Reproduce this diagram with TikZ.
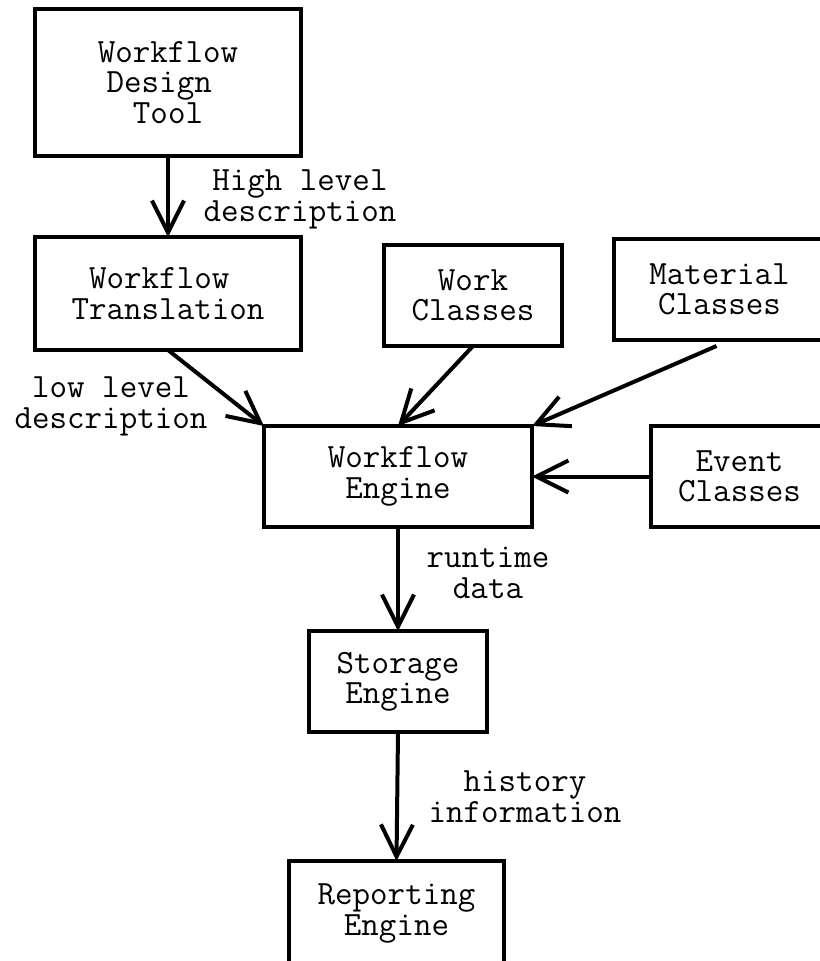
\documentclass[tikz,border=0pt]{standalone}
\usetikzlibrary{arrows.meta}

\begin{document}
\begin{tikzpicture}[x=0.75pt,y=-0.75pt,
  txt/.style={font=\ttfamily\fontsize{25.5pt}{22.8pt}\selectfont,align=center,inner sep=0pt,outer sep=0pt},
  box/.style={txt,draw,line width=3pt},
  conn/.style={line width=3pt,-{Straight Barb[length=24pt,width=24pt]}},
  lbl/.style={txt,anchor=base}]

% page area; boxes running past the edge are cut off
\clip (0,0) rectangle (820,961);

% components
\node[box,minimum width=199.5pt,minimum height=110.25pt] (design)   at (168,82.5)    {Workflow\\Design\phantom{x}\\Tool};
\node[box,minimum width=199.5pt,minimum height=84.75pt]  (trans)    at (168,293.5)   {Workflow\phantom{x}\\Translation};
\node[box,minimum width=133.5pt,minimum height=75.75pt]  (work)     at (473,295.5)   {Work\\Classes};
\node[box,minimum width=158.25pt,minimum height=75.75pt] (material) at (719.5,289.5) {Material\\Classes};
\node[box,minimum width=201pt,minimum height=75.75pt]    (engine)   at (398,476.5)   {Workflow\\Engine};
\node[box,minimum width=132.75pt,minimum height=75.75pt] (event)    at (739.5,476.5) {Event\\Classes};
\node[box,minimum width=133.5pt,minimum height=75.75pt]  (storage)  at (398,681.5)   {Storage\\Engine};
\node[box,minimum width=161.25pt,minimum height=78.75pt] (report)   at (396.5,913.5) {Reporting\\Engine};

% data flow
\coordinate (matout) at ([shift={(-3,6)}]material.south);
\draw[conn] (design.south) -- (trans.north);
\draw[conn] (trans.south) -- (engine.north west);
\draw[conn] (work.south) -- (engine.north);
\draw[conn] (matout) -- (engine.north east);
\draw[conn] (event.west) -- (engine.east);
\draw[conn] (engine.south) -- (storage.north);
\draw[conn] (storage.south) -- (report.north);

% flow labels (anchored on the baseline of the last line)
\node[lbl] (lhigh)    at (300,221) {High level\\description};
\node[lbl] (llow)     at (111,428) {low level\\description};
\node[lbl] (lruntime) at (488,598) {runtime\\data};
\node[lbl] (lhistory) at (525,822) {history\\information};
\end{tikzpicture}
\end{document}
